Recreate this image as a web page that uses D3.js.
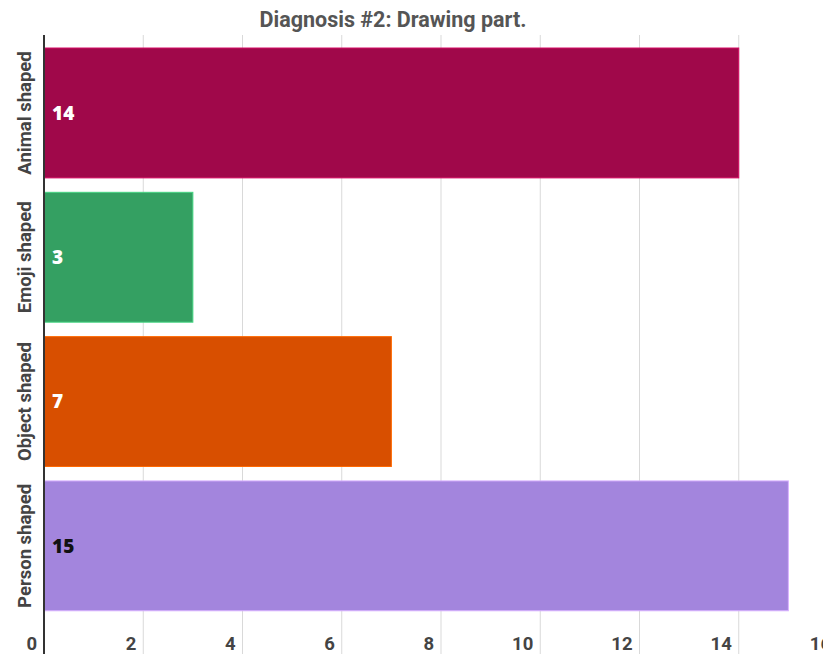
<!DOCTYPE html>
<html><head><meta charset="utf-8">
<script src="https://cdn.jsdelivr.net/npm/d3@7"></script>
<style>body{margin:0;background:#fff}svg{display:block}</style>
</head><body><svg id="c" width="823" height="654"></svg>
<script>
const categories = ["Animal shaped","Emoji shaped","Object shaped","Person shaped"];
const values = [14,3,7,15];
const colors = ["#a0084a","#34a062","#d84f00","#a385dd"];
const labelColors = ["#ffffff","#ffffff","#ffffff","#111111"];
const tickValues = [0,2,4,6,8,10,12,14,16];
const title = "Diagnosis #2: Drawing part.";

const svg = d3.select("#c");
const x = d3.scaleLinear().domain([0,16]).range([44, 838]);
const y = d3.scaleBand().domain(categories).range([40.8, 618]).paddingInner(0.1).paddingOuter(0.05);

// gridlines
svg.append("g").selectAll("line").data(tickValues.filter(d=>d>0)).join("line")
  .attr("x1",d=>x(d)).attr("x2",d=>x(d)).attr("y1",35).attr("y2",654)
  .attr("stroke","#d9d9d9").attr("stroke-width",1);

// bars
svg.append("g").selectAll("rect").data(categories).join("rect")
  .attr("x",x(0)).attr("y",d=>y(d)).attr("width",(d,i)=>x(values[i])-x(0)).attr("height",y.bandwidth())
  .attr("fill",(d,i)=>colors[i]).attr("stroke",(d,i)=>d3.color(colors[i]).brighter(0.8)).attr("stroke-width",1);

// value labels
svg.append("g").selectAll("text").data(categories).join("text")
  .attr("x",x(0)+8).attr("y",d=>y(d)+y.bandwidth()/2).attr("dy","0.35em")
  .attr("fill",(d,i)=>labelColors[i])
  .style("font-family","'Open Sans', sans-serif").style("font-weight","800").style("font-size","19px")
  .text((d,i)=>values[i]);

// y labels
svg.append("g").selectAll("text").data(categories).join("text")
  .attr("transform",d=>`translate(31,${y(d)+y.bandwidth()/2}) rotate(-90)`)
  .attr("text-anchor","middle")
  .attr("fill","#444").style("font-family","Roboto, sans-serif").style("font-weight","700").style("font-size","18.5px")
  .text(d=>d);

// x tick labels
svg.append("g").selectAll("text").data(tickValues).join("text")
  .attr("x",d=>x(d)-7).attr("y",650).attr("text-anchor","end")
  .attr("fill","#444").style("font-family","Roboto, sans-serif").style("font-weight","700").style("font-size","18.5px")
  .text(d=>d);

// axis line
svg.append("line").attr("x1",x(0)).attr("x2",x(0)).attr("y1",35).attr("y2",654)
  .attr("stroke","#333").attr("stroke-width",2);

// title
svg.append("text").attr("x",393).attr("y",27).attr("text-anchor","middle")
  .attr("fill","#555").style("font-family","Roboto, sans-serif").style("font-weight","700").style("font-size","21.5px")
  .text(title);
</script></body></html>
